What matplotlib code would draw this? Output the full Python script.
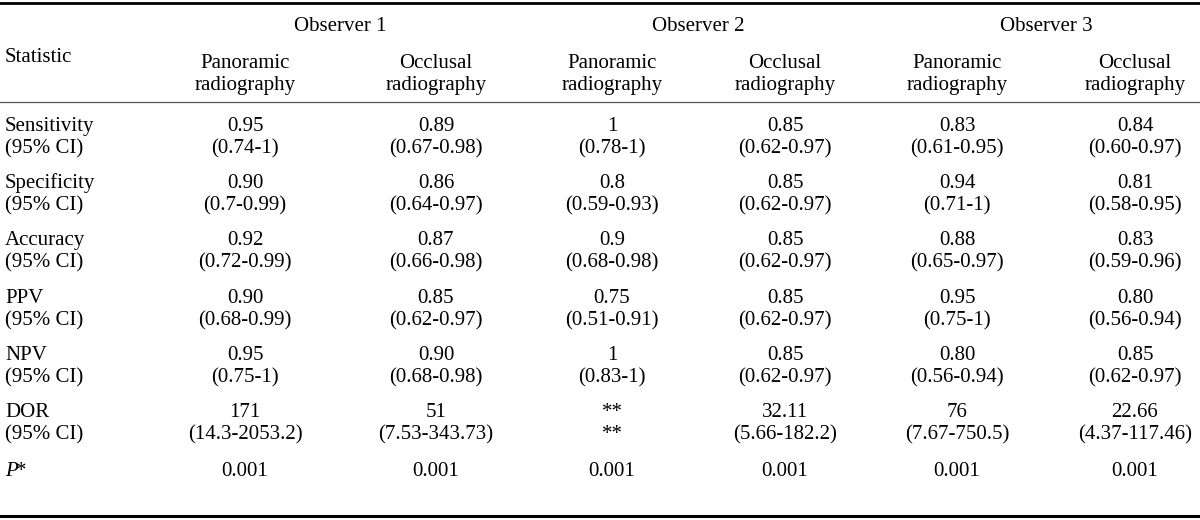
import matplotlib.pyplot as plt

plt.rcParams['font.family'] = ['Liberation Serif', 'DejaVu Serif']

# data tabel
observers = ["Observer 1", "Observer 2", "Observer 3"]
methods = ["Panoramic", "Occlusal"]
statistics = ["Sensitivity", "Specificity", "Accuracy", "PPV", "NPV", "DOR"]

sensitivity = ["0.95", "0.89", "1", "0.85", "0.83", "0.84"]
sensitivity_ci = ["(0.74-1)", "(0.67-0.98)", "(0.78-1)", "(0.62-0.97)", "(0.61-0.95)", "(0.60-0.97)"]
specificity = ["0.90", "0.86", "0.8", "0.85", "0.94", "0.81"]
specificity_ci = ["(0.7-0.99)", "(0.64-0.97)", "(0.59-0.93)", "(0.62-0.97)", "(0.71-1)", "(0.58-0.95)"]
accuracy = ["0.92", "0.87", "0.9", "0.85", "0.88", "0.83"]
accuracy_ci = ["(0.72-0.99)", "(0.66-0.98)", "(0.68-0.98)", "(0.62-0.97)", "(0.65-0.97)", "(0.59-0.96)"]
ppv = ["0.90", "0.85", "0.75", "0.85", "0.95", "0.80"]
ppv_ci = ["(0.68-0.99)", "(0.62-0.97)", "(0.51-0.91)", "(0.62-0.97)", "(0.75-1)", "(0.56-0.94)"]
npv = ["0.95", "0.90", "1", "0.85", "0.80", "0.85"]
npv_ci = ["(0.75-1)", "(0.68-0.98)", "(0.83-1)", "(0.62-0.97)", "(0.56-0.94)", "(0.62-0.97)"]
dor = ["171", "51", "**", "32.11", "76", "22.66"]
dor_ci = ["(14.3-2053.2)", "(7.53-343.73)", "**", "(5.66-182.2)", "(7.67-750.5)", "(4.37-117.46)"]
p_values = ["0.001", "0.001", "0.001", "0.001", "0.001", "0.001"]

values = [sensitivity, specificity, accuracy, ppv, npv, dor]
cis = [sensitivity_ci, specificity_ci, accuracy_ci, ppv_ci, npv_ci, dor_ci]

# posisi kolom dan baris (piksel, baseline)
col_x = [245, 436, 612, 785, 957, 1135]
row_y = [131, 188, 245, 303, 360, 417]
fs = 15

fig = plt.figure(figsize=(12, 5.2), dpi=100)
ax = fig.add_axes([0, 0, 1, 1])
ax.set_xlim(0, 1200)
ax.set_ylim(520, 0)
ax.axis("off")

# garis tabel
ax.plot([0, 1200], [3, 3], color="black", lw=2.0)
ax.plot([0, 1200], [102, 102], color="#555555", lw=0.9)
ax.plot([0, 1200], [516, 516], color="black", lw=2.2)

# header
ax.text(5, 62, "Statistic", fontsize=fs, ha="left", va="baseline")
for i, obs in enumerate(observers):
    xc = (col_x[2 * i] + col_x[2 * i + 1]) / 2
    ax.text(xc, 31, obs, fontsize=fs, ha="center", va="baseline")
    for j, m in enumerate(methods):
        ax.text(col_x[2 * i + j], 68, m, fontsize=fs, ha="center", va="baseline")
        ax.text(col_x[2 * i + j], 90, "radiography", fontsize=fs, ha="center", va="baseline")

# isi
for r, stat in enumerate(statistics):
    y = row_y[r]
    ax.text(5, y, stat, fontsize=fs, ha="left", va="baseline")
    ax.text(5, y + 22, "(95% CI)", fontsize=fs, ha="left", va="baseline")
    for c in range(6):
        ax.text(col_x[c], y, values[r][c], fontsize=fs, ha="center", va="baseline")
        ax.text(col_x[c], y + 22, cis[r][c], fontsize=fs, ha="center", va="baseline")

ax.text(5, 476, "P", fontsize=fs, style="italic", ha="left", va="baseline")
ax.text(16, 476, "*", fontsize=fs, ha="left", va="baseline")
for c in range(6):
    ax.text(col_x[c], 476, p_values[c], fontsize=fs, ha="center", va="baseline")

fig.savefig("out.png", dpi=100)
